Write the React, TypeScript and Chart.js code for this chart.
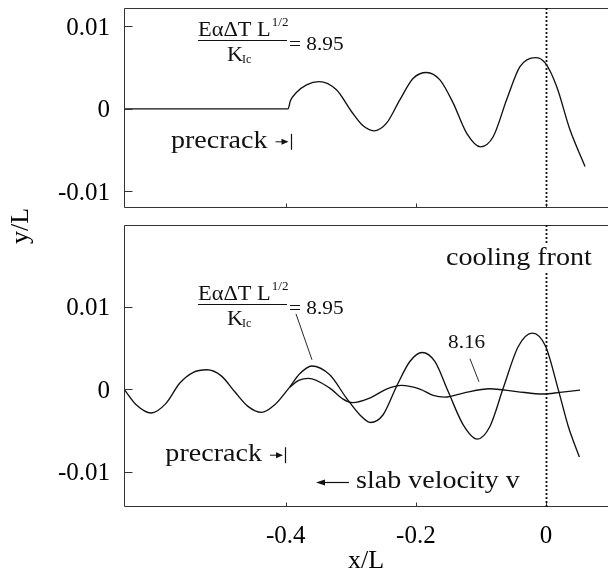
import React, { useEffect, useRef } from 'react';
import { Chart, registerables } from 'chart.js';

Chart.register(...registerables);

// ---------- data ----------
const X_MIN = -0.6485;
const X_MAX = 0.0953;
const xTicks = [-0.4, -0.2, 0];
const xTickLabels = ['-0.4', '-0.2', '0'];
const yTicks = [-0.01, 0, 0.01];
const yTickLabels = ['-0.01', '0', '0.01'];
const topYMin = -0.012;
const topYMax = 0.0122;
const bottomYMin = -0.0143;
const bottomYMax = 0.0199;

// top panel: E alpha dT L^1/2 / K_Ic = 8.95, straight precrack
const topX = [-0.6485, -0.3964, -0.3928, -0.3836, -0.368, -0.3487, -0.322, -0.299, -0.281, -0.2646, -0.245, -0.2246, -0.204, -0.1836, -0.163, -0.1426, -0.122, -0.1005, -0.081, -0.0605, -0.04, -0.0159, -0.001, 0.0164, 0.0369, 0.06];
const topY = [0, 0, 0.00097, 0.00197, 0.0029, 0.0033, 0.0023, -0.00032, -0.00206, -0.00266, -0.00173, 0.00109, 0.0037, 0.0044, 0.0035, 0.00069, -0.00294, -0.0046, -0.00335, 0.00109, 0.0051, 0.0062, 0.00552, 0.0027, -0.00254, -0.00697];

// bottom panel: wavy precrack shared by both runs
const precrackX = [-0.6485, -0.6298, -0.6067, -0.5836, -0.563, -0.5426, -0.521, -0.499, -0.4785, -0.458, -0.4374, -0.4169, -0.3938];
const precrackY = [0, -0.0019, -0.0029, -0.0017, 0.0007, 0.002, 0.00234, 0.0016, -0.0003, -0.0021, -0.00283, -0.0019, 0.00024];

// bottom panel: ratio 8.95
const crack895X = [-0.3938, -0.3785, -0.36, -0.3323, -0.3067, -0.2862, -0.2697, -0.2503, -0.2297, -0.2092, -0.1903, -0.1708, -0.1503, -0.1272, -0.1056, -0.0862, -0.0657, -0.0426, -0.021, -0.0005, 0.019, 0.0343, 0.0513];
const crack895Y = [0.00024, 0.00185, 0.0028, 0.00173, -0.00109, -0.00311, -0.00405, -0.00311, 0.00032, 0.00335, 0.00444, 0.00335, -0.0003, -0.00433, -0.00606, -0.00453, 0.00012, 0.00517, 0.00679, 0.00517, -0.0001, -0.00453, -0.00824];

// bottom panel: ratio 8.16
const crack816X = [-0.3938, -0.38, -0.365, -0.3323, -0.3118, -0.297, -0.2708, -0.2451, -0.222, -0.1938, -0.1733, -0.1554, -0.1272, -0.0862, -0.045, -0.0041, 0.0215, 0.0523];
const crack816Y = [0.00024, 0.00105, 0.0013, 0.00012, -0.00121, -0.00165, -0.00109, 0, 0.00045, 0, -0.00077, -0.00097, -0.00048, 0.00004, -0.0003, -0.0006, -0.0004, -0.00012];

const coolingFrontX = 0;

// annotation anchors (data coordinates)
const topRatioAnchor = { x: -0.5348, y: 0.00833 };
const topMarker = { x: -0.3926, y: -0.00399 };
const botRatioAnchor = { x: -0.5348, y: 0.01034 };
const leader895 = { x1: -0.3842, y1: 0.00913, x2: -0.3596, y2: 0.00355 };
const label816 = { x: -0.1506, y: 0.00501 };
const leader816 = { x1: -0.1168, y1: 0.00368, x2: -0.103, y2: 0.00089 };
const botMarker = { x: -0.4011, y: -0.00802 };
const slabArrow = { x1: -0.3027, x2: -0.3534, y: -0.0113 };
const slabText = { x: -0.292, y: -0.01195 };
const coolingText = { x: -0.1537, y: 0.01505 };

// ---------- drawing helpers ----------
const SERIF = '"Liberation Serif", "Times New Roman", Times, serif';
const INK = '#111';

function txt(ctx: CanvasRenderingContext2D, s: string, x: number, y: number, size: number, sx = 1.08, align: CanvasTextAlign = 'left') {
  ctx.save();
  ctx.translate(x, y);
  ctx.scale(sx, 1);
  ctx.font = `${size}px ${SERIF}`;
  ctx.fillStyle = INK;
  ctx.textAlign = align;
  ctx.textBaseline = 'alphabetic';
  ctx.fillText(s, 0, 0);
  ctx.restore();
}

function measure(ctx: CanvasRenderingContext2D, s: string, size: number, sx: number) {
  ctx.save();
  ctx.font = `${size}px ${SERIF}`;
  const w = ctx.measureText(s).width * sx;
  ctx.restore();
  return w;
}

function line(ctx: CanvasRenderingContext2D, x1: number, y1: number, x2: number, y2: number, w = 1) {
  ctx.save();
  ctx.strokeStyle = INK;
  ctx.lineWidth = w;
  ctx.beginPath();
  ctx.moveTo(x1, y1);
  ctx.lineTo(x2, y2);
  ctx.stroke();
  ctx.restore();
}

function drawFrame(chart: any) {
  const { ctx, chartArea: a, scales } = chart;
  const x = scales.x;
  const y = scales.y;
  const L = Math.round(a.left) + 0.5;
  const T = Math.round(a.top) + 0.5;
  const B = Math.round(a.bottom) - 0.5;
  const R = a.right + 2;
  ctx.save();
  ctx.strokeStyle = '#333';
  ctx.lineWidth = 1;
  ctx.beginPath();
  ctx.moveTo(R, T);
  ctx.lineTo(L, T);
  ctx.lineTo(L, B);
  ctx.lineTo(R, B);
  ctx.stroke();
  ctx.beginPath();
  yTicks.forEach((v) => {
    const p = Math.round(y.getPixelForValue(v)) + 0.5;
    ctx.moveTo(L, p);
    ctx.lineTo(L + 8, p);
  });
  xTicks.forEach((v) => {
    const p = Math.round(x.getPixelForValue(v)) + 0.5;
    ctx.moveTo(p, B);
    ctx.lineTo(p, B - 4);
  });
  ctx.stroke();
  ctx.restore();
}

function drawCoolingLine(chart: any) {
  const { ctx, chartArea: a, scales } = chart;
  const px = Math.round(scales.x.getPixelForValue(coolingFrontX)) + 0.5;
  ctx.save();
  ctx.strokeStyle = INK;
  ctx.lineWidth = 1.8;
  ctx.setLineDash([2, 2]);
  ctx.beginPath();
  ctx.moveTo(px, a.top);
  ctx.lineTo(px, a.bottom);
  ctx.stroke();
  ctx.restore();
}

function drawRatio(ctx: CanvasRenderingContext2D, x: number, y: number, value: string) {
  const fs = 20;
  const sx = 1.12;
  const num = 'E\u03b1\u0394T L';
  txt(ctx, num, x, y - 4, fs, sx);
  const w = measure(ctx, num, fs, sx);
  txt(ctx, '1/2', x + w + 1, y - 14, 13, 1);
  line(ctx, x, Math.round(y) + 0.5, x + 89, Math.round(y) + 0.5, 1);
  txt(ctx, 'K', x + 29, y + 21, fs, sx);
  txt(ctx, 'Ic', x + 44, y + 23, 12, 1);
  txt(ctx, '= ' + value, x + 91, y + 10, 19, sx);
}

function drawPrecrackMarker(ctx: CanvasRenderingContext2D, bx: number, ym: number) {
  txt(ctx, 'precrack', bx - 23, ym + 6, 26, 1.08, 'right');
  line(ctx, bx - 15, ym, bx - 6, ym, 1);
  ctx.save();
  ctx.fillStyle = INK;
  ctx.beginPath();
  ctx.moveTo(bx - 2, ym);
  ctx.lineTo(bx - 9, ym - 3);
  ctx.lineTo(bx - 9, ym + 3);
  ctx.closePath();
  ctx.fill();
  ctx.restore();
  line(ctx, Math.round(bx) + 0.5, ym - 8, Math.round(bx) + 0.5, ym + 8, 1.2);
}

function labelFor(v: number, vals: number[], labels: string[]) {
  const i = vals.findIndex((t) => Math.abs(t - v) < 1e-9);
  return i >= 0 ? labels[i] : '';
}

function yScale(min: number, max: number) {
  return {
    type: 'linear',
    position: 'left',
    min,
    max,
    afterFit: (s: any) => {
      s.width = 124;
      s.paddingTop = 0;
      s.paddingBottom = 0;
      s.paddingLeft = 0;
      s.paddingRight = 0;
    },
    afterBuildTicks: (s: any) => {
      s.ticks = yTicks.map((v) => ({ value: v }));
    },
    grid: { display: false, drawTicks: false },
    border: { display: false },
    ticks: {
      padding: 14,
      labelOffset: 2,
      color: '#000',
      font: { family: SERIF, size: 25 },
      callback: (v: any) => labelFor(Number(v), yTicks, yTickLabels),
    },
  };
}

function pts(xs: number[], ys: number[]) {
  return xs.map((x, i) => ({ x, y: ys[i] }));
}

function curve(label: string, xs: number[], ys: number[]) {
  return {
    label,
    data: pts(xs, ys),
    borderColor: INK,
    borderWidth: 1.35,
    pointRadius: 0,
    fill: false,
    cubicInterpolationMode: 'monotone',
  };
}

function topConfig(): any {
  return {
    type: 'line',
    data: { datasets: [curve('8.95', topX, topY)] },
    options: {
      responsive: false,
      animation: false,
      devicePixelRatio: 1,
      layout: { autoPadding: false, padding: { left: 0, right: 0, top: 8, bottom: 363 } },
      plugins: { legend: { display: false }, tooltip: { enabled: false }, title: { display: false } },
      scales: {
        x: { type: 'linear', min: X_MIN, max: X_MAX, display: false },
        y: yScale(topYMin, topYMax),
      },
    },
    plugins: [
      {
        id: 'topDecor',
        afterDraw(chart: any) {
          const { ctx, scales } = chart;
          const x = scales.x;
          const y = scales.y;
          drawFrame(chart);
          drawCoolingLine(chart);
          drawRatio(ctx, x.getPixelForValue(topRatioAnchor.x), y.getPixelForValue(topRatioAnchor.y), '8.95');
          drawPrecrackMarker(ctx, x.getPixelForValue(topMarker.x), y.getPixelForValue(topMarker.y));
        },
      },
    ],
  };
}

function bottomConfig(): any {
  return {
    type: 'line',
    data: {
      datasets: [
        curve('precrack', precrackX, precrackY),
        curve('8.95', crack895X, crack895Y),
        curve('8.16', crack816X, crack816Y),
      ],
    },
    options: {
      responsive: false,
      animation: false,
      devicePixelRatio: 1,
      layout: { autoPadding: false, padding: { left: 0, right: 0, top: 225, bottom: 0 } },
      plugins: { legend: { display: false }, tooltip: { enabled: false }, title: { display: false } },
      scales: {
        x: {
          type: 'linear',
          position: 'bottom',
          min: X_MIN,
          max: X_MAX,
          afterFit: (s: any) => {
            s.height = 64;
            s.paddingLeft = 0;
            s.paddingRight = 0;
            s.paddingTop = 0;
            s.paddingBottom = 0;
          },
          afterBuildTicks: (s: any) => {
            s.ticks = xTicks.map((v) => ({ value: v }));
          },
          grid: { display: false, drawTicks: false },
          border: { display: false },
          ticks: {
            padding: 14,
            maxRotation: 0,
            autoSkip: false,
            color: '#000',
            font: { family: SERIF, size: 25 },
            callback: (v: any) => labelFor(Number(v), xTicks, xTickLabels),
          },
          title: {
            display: true,
            text: 'x/L',
            color: '#000',
            font: { family: SERIF, size: 26, lineHeight: 1 },
            padding: { top: 0, bottom: -3 },
          },
        },
        y: yScale(bottomYMin, bottomYMax),
      },
    },
    plugins: [
      {
        id: 'bottomDecor',
        afterDraw(chart: any) {
          const { ctx, scales } = chart;
          const x = scales.x;
          const y = scales.y;
          drawFrame(chart);
          drawCoolingLine(chart);

          // cooling front label with white backing
          const cx = x.getPixelForValue(coolingText.x);
          const cy = y.getPixelForValue(coolingText.y);
          const cw = measure(ctx, 'cooling front', 26, 1.08);
          ctx.save();
          ctx.fillStyle = '#fff';
          ctx.fillRect(cx - 3, cy - 22, cw + 6, 30);
          ctx.restore();
          txt(ctx, 'cooling front', cx, cy, 26, 1.08);

          drawRatio(ctx, x.getPixelForValue(botRatioAnchor.x), y.getPixelForValue(botRatioAnchor.y), '8.95');
          line(ctx, x.getPixelForValue(leader895.x1), y.getPixelForValue(leader895.y1), x.getPixelForValue(leader895.x2), y.getPixelForValue(leader895.y2), 0.9);
          txt(ctx, '8.16', x.getPixelForValue(label816.x), y.getPixelForValue(label816.y), 19, 1.12);
          line(ctx, x.getPixelForValue(leader816.x1), y.getPixelForValue(leader816.y1), x.getPixelForValue(leader816.x2), y.getPixelForValue(leader816.y2), 0.9);

          drawPrecrackMarker(ctx, x.getPixelForValue(botMarker.x), y.getPixelForValue(botMarker.y));

          // slab velocity arrow
          const ax1 = x.getPixelForValue(slabArrow.x1);
          const ax2 = x.getPixelForValue(slabArrow.x2);
          const ay = Math.round(y.getPixelForValue(slabArrow.y)) + 0.5;
          line(ctx, ax1, ay, ax2 + 6, ay, 1.2);
          ctx.save();
          ctx.fillStyle = INK;
          ctx.beginPath();
          ctx.moveTo(ax2, ay);
          ctx.lineTo(ax2 + 9, ay - 3);
          ctx.lineTo(ax2 + 9, ay + 3);
          ctx.closePath();
          ctx.fill();
          ctx.restore();
          txt(ctx, 'slab velocity v', x.getPixelForValue(slabText.x), y.getPixelForValue(slabText.y), 26, 1.08);

          // shared y axis title between the two panels
          ctx.save();
          ctx.translate(28, 226);
          ctx.rotate(-Math.PI / 2);
          ctx.font = `26px ${SERIF}`;
          ctx.fillStyle = '#000';
          ctx.textAlign = 'center';
          ctx.textBaseline = 'alphabetic';
          ctx.fillText('y/L', 0, 0);
          ctx.restore();
        },
      },
    ],
  };
}

export default function App() {
  const topRef = useRef<HTMLCanvasElement>(null);
  const botRef = useRef<HTMLCanvasElement>(null);
  useEffect(() => {
    const bot = new Chart(botRef.current as HTMLCanvasElement, bottomConfig());
    const top = new Chart(topRef.current as HTMLCanvasElement, topConfig());
    return () => {
      top.destroy();
      bot.destroy();
    };
  }, []);
  const cs: React.CSSProperties = { position: 'absolute', left: 0, top: 0, width: 608, height: 571 };
  return (
    <div style={{ position: 'fixed', left: 0, top: 0, width: 608, height: 571, background: '#fff', overflow: 'hidden' }}>
      <canvas ref={botRef} width={608} height={571} style={cs} />
      <canvas ref={topRef} width={608} height={571} style={cs} />
    </div>
  );
}
